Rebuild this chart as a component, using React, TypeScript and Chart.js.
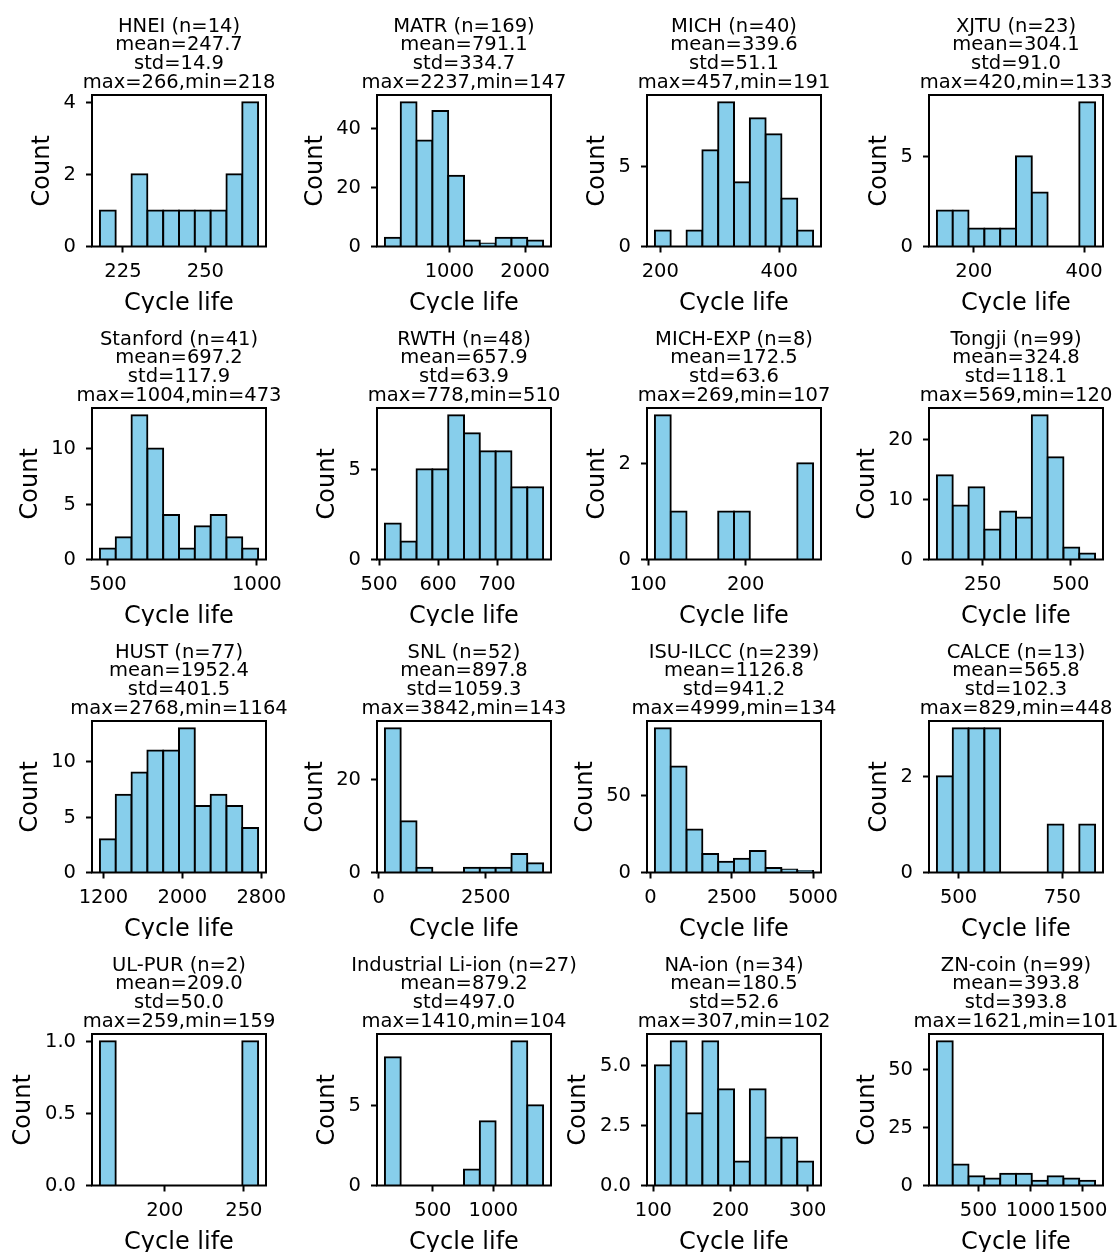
import React, { useEffect, useRef } from 'react';
import { Chart, registerables } from 'chart.js';

Chart.register(...registerables);

// ---------------- data ----------------
const datasetNames = [
  'HNEI', 'MATR', 'MICH', 'XJTU',
  'Stanford', 'RWTH', 'MICH-EXP', 'Tongji',
  'HUST', 'SNL', 'ISU-ILCC', 'CALCE',
  'UL-PUR', 'Industrial Li-ion', 'NA-ion', 'ZN-coin',
];
const sampleSizes = [14, 169, 40, 23, 41, 48, 8, 99, 77, 52, 239, 13, 2, 27, 34, 99];
const meanValues = [247.7, 791.1, 339.6, 304.1, 697.2, 657.9, 172.5, 324.8, 1952.4, 897.8, 1126.8, 565.8, 209.0, 879.2, 180.5, 393.8];
const stdValues = [14.9, 334.7, 51.1, 91.0, 117.9, 63.9, 63.6, 118.1, 401.5, 1059.3, 941.2, 102.3, 50.0, 497.0, 52.6, 393.8];
const maxValues = [266, 2237, 457, 420, 1004, 778, 269, 569, 2768, 3842, 4999, 829, 259, 1410, 307, 1621];
const minValues = [218, 147, 191, 133, 473, 510, 107, 120, 1164, 143, 134, 448, 159, 104, 102, 101];

const hneiCounts = [1, 0, 2, 1, 1, 1, 1, 1, 2, 4];
const matrCounts = [3, 49, 36, 46, 24, 2, 1, 3, 3, 2];
const michCounts = [1, 0, 1, 6, 9, 4, 8, 7, 3, 1];
const xjtuCounts = [2, 2, 1, 1, 1, 5, 3, 0, 0, 8];
const stanfordCounts = [1, 2, 13, 10, 4, 1, 3, 4, 2, 1];
const rwthCounts = [2, 1, 5, 5, 8, 7, 6, 6, 4, 4];
const michExpCounts = [3, 1, 0, 0, 1, 1, 0, 0, 0, 2];
const tongjiCounts = [14, 9, 12, 5, 8, 7, 24, 17, 2, 1];
const hustCounts = [3, 7, 9, 11, 11, 13, 6, 7, 6, 4];
const snlCounts = [31, 11, 1, 0, 0, 1, 1, 1, 4, 2];
const isuCounts = [94, 69, 28, 12, 7, 9, 14, 3, 2, 1];
const calceCounts = [2, 3, 3, 3, 0, 0, 0, 1, 0, 1];
const ulPurCounts = [1, 0, 0, 0, 0, 0, 0, 0, 0, 1];
const industrialCounts = [8, 0, 0, 0, 0, 1, 4, 0, 9, 5];
const naIonCounts = [5, 6, 3, 6, 4, 1, 4, 2, 2, 1];
const znCoinCounts = [62, 9, 4, 3, 5, 5, 2, 4, 3, 2];

const binCounts = [
  hneiCounts, matrCounts, michCounts, xjtuCounts,
  stanfordCounts, rwthCounts, michExpCounts, tongjiCounts,
  hustCounts, snlCounts, isuCounts, calceCounts,
  ulPurCounts, industrialCounts, naIonCounts, znCoinCounts,
];

const xTickValues = [
  [225, 250], [1000, 2000], [200, 400], [200, 400],
  [500, 1000], [500, 600, 700], [100, 200], [250, 500],
  [1200, 2000, 2800], [0, 2500], [0, 2500, 5000], [500, 750],
  [200, 250], [500, 1000], [100, 200, 300], [500, 1000, 1500],
];
const yTickValues = [
  [0, 2, 4], [0, 20, 40], [0, 5], [0, 5],
  [0, 5, 10], [0, 5], [0, 2], [0, 10, 20],
  [0, 5, 10], [0, 20], [0, 50], [0, 2],
  [0, 0.5, 1], [0, 5], [0, 2.5, 5], [0, 25, 50],
];
const yTickLabels = [
  ['0', '2', '4'], ['0', '20', '40'], ['0', '5'], ['0', '5'],
  ['0', '5', '10'], ['0', '5'], ['0', '2'], ['0', '10', '20'],
  ['0', '5', '10'], ['0', '20'], ['0', '50'], ['0', '2'],
  ['0.0', '0.5', '1.0'], ['0', '5'], ['0.0', '2.5', '5.0'], ['0', '25', '50'],
];
const xAxisTitle = 'Cycle life';
const yAxisTitle = 'Count';

// ---------------- layout / style ----------------
const COL_LEFT = [92, 377, 647, 929];
const ROW_TOP = [95, 408, 721, 1034];
const PLOT_W = 174;
const PLOT_H = 151.5;
const Y_AXIS_W = 92;
const TOP_SPACE = 95;
const RIGHT_SPACE = 48;
const CANVAS_H = 313;
const X_AXIS_H = CANVAS_H - TOP_SPACE - PLOT_H;
const FONT = 'DejaVu Sans';
const TITLE_SIZE = 19.5;
const TICK_SIZE = 19.5;
const LABEL_SIZE = 24;
const BAR_FILL = '#87CEEB';
const LINE_W = 2;

Chart.defaults.font.family = FONT;

function Histogram({ idx }: { idx: number }) {
  const ref = useRef<HTMLCanvasElement | null>(null);
  const col = idx % 4;
  const row = Math.floor(idx / 4);
  const left = COL_LEFT[col] - Y_AXIS_W;
  const top = ROW_TOP[row] - TOP_SPACE;
  const width = Y_AXIS_W + PLOT_W + RIGHT_SPACE;

  useEffect(() => {
    const canvas = ref.current;
    if (!canvas) return;
    const min = minValues[idx];
    const max = maxValues[idx];
    const counts = binCounts[idx];
    const binW = (max - min) / counts.length;
    const margin = 0.05 * (max - min);
    const points = counts.map((c, k) => ({ x: min + (k + 0.5) * binW, y: c }));
    const yMax = 1.05 * Math.max(...counts);
    const titleLines = [
      `${datasetNames[idx]} (n=${sampleSizes[idx]})`,
      `mean=${meanValues[idx].toFixed(1)}`,
      `std=${stdValues[idx].toFixed(1)}`,
      `max=${max},min=${min}`,
    ];
    const xt = xTickValues[idx];
    const yt = yTickValues[idx];
    const ytl = yTickLabels[idx];

    const textPlugin = {
      id: 'histText',
      afterDatasetsDraw(chart: any) {
        const { ctx, chartArea: a } = chart;
        ctx.save();
        ctx.strokeStyle = '#000';
        ctx.lineWidth = LINE_W;
        ctx.strokeRect(a.left, a.top, a.right - a.left, a.bottom - a.top);
        ctx.fillStyle = '#000';
        ctx.textAlign = 'center';
        ctx.textBaseline = 'alphabetic';
        const cx = (a.left + a.right) / 2;
        ctx.font = `${TITLE_SIZE}px "${FONT}"`;
        titleLines.forEach((t, k) => {
          ctx.fillText(t, cx, a.top - 7 - (titleLines.length - 1 - k) * 18.8);
        });
        ctx.font = `${LABEL_SIZE}px "${FONT}"`;
        ctx.fillText(xAxisTitle, cx, a.bottom + 63.5);
        ctx.font = `${TICK_SIZE}px "${FONT}"`;
        const maxW = Math.max(...ytl.map((s) => ctx.measureText(s).width));
        ctx.font = `${LABEL_SIZE}px "${FONT}"`;
        ctx.translate(a.left - maxW - 30.5, (a.top + a.bottom) / 2);
        ctx.rotate(-Math.PI / 2);
        ctx.fillText(yAxisTitle, 0, 0);
        ctx.restore();
      },
    };

    const tickFont = { family: FONT, size: TICK_SIZE };
    const chart = new Chart(canvas, {
      type: 'bar',
      data: {
        datasets: [
          {
            data: points as any,
            backgroundColor: BAR_FILL,
            borderColor: '#000',
            borderWidth: LINE_W,
            borderSkipped: 'start',
            inflateAmount: LINE_W / 2,
            barPercentage: 1,
            categoryPercentage: 1,
          } as any,
        ],
      },
      options: {
        responsive: false,
        animation: false,
        events: [],
        layout: { padding: { top: TOP_SPACE, left: 0, right: RIGHT_SPACE, bottom: 0 } },
        plugins: {
          legend: { display: false },
          tooltip: { enabled: false },
          title: { display: false },
        },
        scales: {
          x: {
            type: 'linear',
            min: min - margin,
            max: max + margin,
            offset: false,
            grid: {
              offset: false,
              drawOnChartArea: false,
              drawTicks: true,
              tickLength: 6,
              tickWidth: LINE_W,
              tickColor: '#000',
            },
            border: { display: false },
            ticks: {
              font: tickFont,
              color: '#000',
              padding: 7.5,
              maxRotation: 0,
              autoSkip: false,
              callback: (_v: any, i: number) => String(xt[i]),
            },
            afterBuildTicks: (s: any) => {
              s.ticks = xt.map((v) => ({ value: v }));
            },
            afterFit: (s: any) => {
              s.height = X_AXIS_H;
            },
          },
          y: {
            type: 'linear',
            min: 0,
            max: yMax,
            grid: {
              drawOnChartArea: false,
              drawTicks: true,
              tickLength: 6,
              tickWidth: LINE_W,
              tickColor: '#000',
            },
            border: { display: false },
            ticks: {
              font: tickFont,
              color: '#000',
              padding: 10,
              autoSkip: false,
              labelOffset: 0.5,
              callback: (_v: any, i: number) => ytl[i],
            },
            afterBuildTicks: (s: any) => {
              s.ticks = yt.map((v) => ({ value: v }));
            },
            afterFit: (s: any) => {
              s.width = Y_AXIS_W;
            },
          },
        },
      } as any,
      plugins: [textPlugin],
    });
    return () => chart.destroy();
  }, [idx]);

  return (
    <canvas
      ref={ref}
      width={width}
      height={CANVAS_H}
      style={{ position: 'absolute', left, top, width, height: CANVAS_H }}
    />
  );
}

export default function App() {
  return (
    <div
      style={{
        position: 'absolute',
        left: 0,
        top: 0,
        width: 1118,
        height: 1254,
        background: '#fff',
        overflow: 'hidden',
      }}
    >
      {datasetNames.map((_, i) => (
        <Histogram key={i} idx={i} />
      ))}
    </div>
  );
}
